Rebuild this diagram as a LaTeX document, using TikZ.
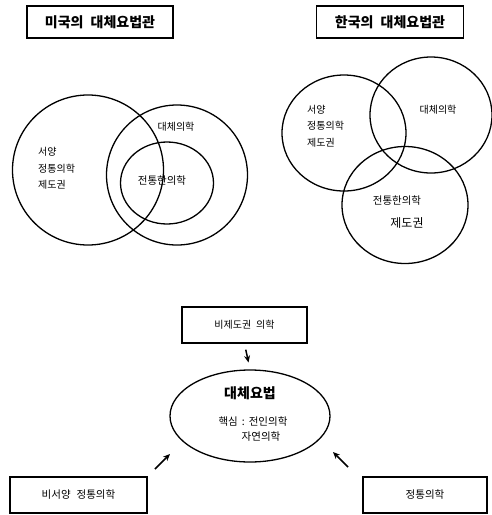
\documentclass[tikz,border=0pt]{standalone}
\usepackage{fontspec}
\setmainfont{Noto Sans CJK KR}
\usetikzlibrary{shapes.geometric,arrows.meta}
\tikzset{
  x=1pt,y=-1pt,
  venn/.style={draw,ellipse,line width=1.3pt,inner sep=0pt},
  framebox/.style={draw,line width=1.6pt,inner sep=0pt},
  lbl/.style={inner sep=0pt,font=\fontsize{10}{11}\selectfont},
  arr/.style={line width=1.5pt,-{Stealth[length=7pt,width=6pt]}},
}
\begin{document}
\begin{tikzpicture}
\useasboundingbox (0,0) rectangle (492,515);
% titles
\node[framebox,minimum width=146pt,minimum height=32pt] (t1) at (100,22)
  {\fontsize{14}{16}\selectfont\bfseries 미국의\hspace{7pt}대체요법관};
\node[framebox,minimum width=147pt,minimum height=32pt] (t2) at (390,22)
  {\fontsize{14}{16}\selectfont\bfseries 한국의\hspace{7pt}대체요법관};
% left venn (USA)
\node[venn,minimum width=151pt,minimum height=150pt] (lw) at (88,170) {};
\node[venn,minimum width=141pt,minimum height=140pt] (la) at (177,175) {};
\node[venn,minimum width=93pt,minimum height=82pt] (lt) at (167,183) {};
\node[lbl,anchor=west] (lw1) at (38,152) {서양};
\node[lbl,anchor=west] (lw2) at (38,169) {정통의학};
\node[lbl,anchor=west] (lw3) at (38,185) {제도권};
\node[lbl] (la1) at (176,127) {대체의학};
\node[lbl,font=\fontsize{10.5}{12}\selectfont] (lt1) at (162,181) {전통한의학};
% right venn (Korea)
\node[venn,minimum width=124pt,minimum height=116pt] (rw) at (344,133) {};
\node[venn,minimum width=122pt,minimum height=116pt] (ra) at (431,115) {};
\node[venn,minimum width=126pt,minimum height=117pt] (rt) at (405,205) {};
\node[lbl,anchor=west] (rw1) at (307,110) {서양};
\node[lbl,anchor=west] (rw2) at (307,126) {정통의학};
\node[lbl,anchor=west] (rw3) at (307,143) {제도권};
\node[lbl] (ra1) at (438,110) {대체의학};
\node[lbl,font=\fontsize{10.5}{12}\selectfont] (rt1) at (397,201) {전통한의학};
\node[lbl,font=\fontsize{12}{14}\selectfont] (rt2) at (407,223) {제도권};
% bottom diagram
\node[framebox,minimum width=125pt,minimum height=36pt] (nb) at (244.5,325)
  {\fontsize{10}{11}\selectfont 비제도권\hspace{5pt}의학};
\node[venn,minimum width=160pt,minimum height=92pt] (ce) at (250,416) {};
\node[inner sep=0pt,font=\fontsize{14}{16}\selectfont\bfseries] (ce1) at (250,393) {대체요법};
\node[lbl,font=\fontsize{10.5}{12}\selectfont] (ce2) at (253,422) {핵심\hspace{4pt}:\hspace{4pt}전인의학};
\node[lbl,font=\fontsize{10.5}{12}\selectfont] (ce3) at (261,437) {자연의학};
\node[framebox,minimum width=137pt,minimum height=36pt] (lb) at (78.5,495)
  {\fontsize{10.5}{12}\selectfont 비서양\hspace{6pt}정통의학};
\node[framebox,minimum width=124pt,minimum height=36pt] (rb) at (425,495)
  {\fontsize{10.5}{12}\selectfont 정통의학};
% arrows
\draw[arr,shorten <=6pt,shorten >=7pt] (nb.south) -- (ce.north);
\coordinate (a1s) at (155,469);
\coordinate (a1e) at (170,454);
\coordinate (a2s) at (348,467);
\coordinate (a2e) at (333,452);
\draw[arr] (a1s) -- (a1e);
\draw[arr] (a2s) -- (a2e);
\end{tikzpicture}
\end{document}
